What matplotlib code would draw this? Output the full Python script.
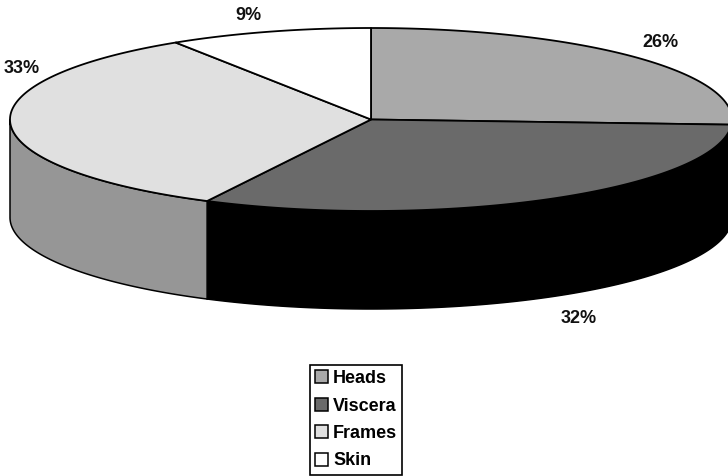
import numpy as np
import matplotlib
matplotlib.use("Agg")
from matplotlib import pyplot as plt
from matplotlib.patches import Polygon, Patch

categories = ["Heads", "Viscera", "Frames", "Skin"]
shares = [25.9, 31.6, 33.4, 9.1]
pct_labels = ["26%", "32%", "33%", "9%"]
top_colors = ["#a9a9a9", "#6a6a6a", "#e0e0e0", "#ffffff"]
wall_colors = ["#000000", "#000000", "#969696", "#ffffff"]
label_pos = [(660, 42.6), (579, 318.6), (22, 68.6), (248, 15)]

CX, CY = 371, 119.5
RX, RY = 361, 91.5
DEPTH = 98

plt.rcParams['font.family'] = ['Liberation Sans', 'DejaVu Sans']


def rim(t0, t1, dy=0):
    # t in degrees, clockwise from 12 o'clock
    t = np.radians(np.linspace(t0, t1, 200))
    return np.column_stack([CX + RX * np.sin(t), CY - RY * np.cos(t) + dy])


fig = plt.figure(figsize=(7.28, 4.76), dpi=100)
ax = fig.add_axes([0, 0, 1, 1])
ax.set_xlim(0, 728)
ax.set_ylim(476, 0)
ax.axis("off")

angles = np.concatenate([[0], np.cumsum(shares)]) * 360 / sum(shares)

# side wall, only the front half of the rim shows
for i, color in enumerate(wall_colors):
    t0, t1 = max(angles[i], 90), min(angles[i + 1], 270)
    if t0 >= t1:
        continue
    pts = np.vstack([rim(t0, t1), rim(t1, t0, DEPTH)])
    ax.add_patch(Polygon(pts, closed=True, facecolor=color, edgecolor="black", lw=1.1))

# top face
for i, color in enumerate(top_colors):
    pts = np.vstack([[CX, CY], rim(angles[i], angles[i + 1])])
    ax.add_patch(Polygon(pts, closed=True, facecolor=color, edgecolor="black", lw=1.3, joinstyle="round"))

for txt, (x, y) in zip(pct_labels, label_pos):
    ax.text(x, y, txt, fontsize=13, fontweight="bold", ha="center", va="center", color="#111111")

handles = [Patch(facecolor=c, edgecolor="black", lw=1.1) for c in top_colors]
leg = ax.legend(handles, categories, loc="upper left", bbox_to_anchor=(310 / 728, 1 - 365 / 476),
                frameon=True, fancybox=False, framealpha=1, edgecolor="black",
                prop={"size": 13, "weight": "bold"}, handlelength=0.72, handleheight=0.72,
                handletextpad=0.28, labelspacing=0.58, borderpad=0.28, borderaxespad=0)
leg.get_frame().set_linewidth(1.2)

fig.savefig("out.png", dpi=100)
